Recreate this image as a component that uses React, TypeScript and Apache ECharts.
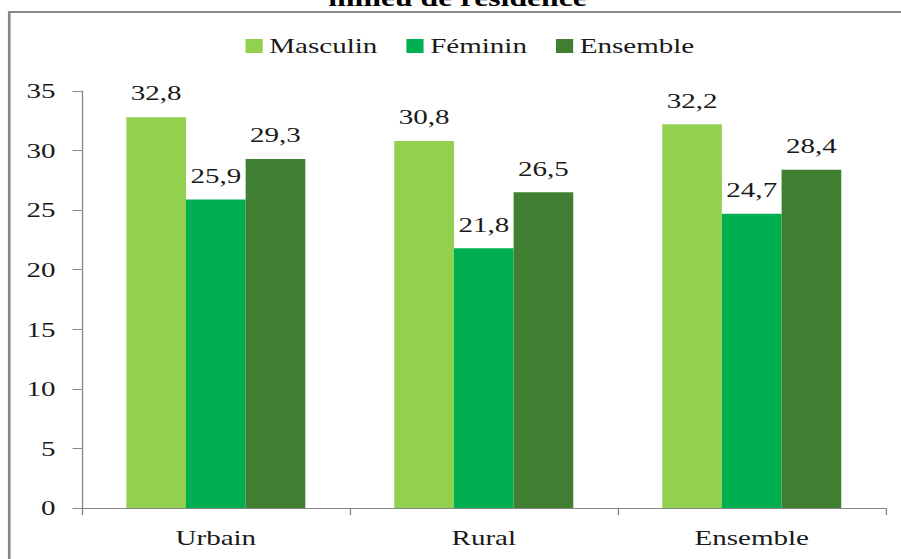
import React, { useEffect, useRef } from "react";
import * as echarts from "echarts";

const categories = ["Urbain", "Rural", "Ensemble"];
const seriesNames = ["Masculin", "Féminin", "Ensemble"];
const masculin = [32.8, 30.8, 32.2];
const feminin = [25.9, 21.8, 24.7];
const ensemble = [29.3, 26.5, 28.4];
const colors = ["#92D050", "#00B050", "#407F32"];
const titleText = "milieu de résidence";

const SX = 1.32;
const W = 901;
const H = 559;
const W0 = Math.round(W / SX);
const FONT = "Liberation Serif";
const TEXT = "#1a1a1a";
const GRAY = "#878787";

export default function App() {
  const ref = useRef<HTMLDivElement>(null);
  useEffect(() => {
    if (!ref.current) return;
    const chart = echarts.init(ref.current, null, { renderer: "svg" });
    const values = [masculin, feminin, ensemble];
    chart.setOption({
      animation: false,
      backgroundColor: "#ffffff",
      textStyle: { fontFamily: FONT },
      graphic: [
        {
          type: "rect",
          shape: { x: 7, y: 12, width: 900, height: 800 },
          style: { fill: "none", stroke: GRAY, lineWidth: 2 },
          silent: true,
        },
        {
          type: "text",
          x: 346.6,
          y: -2,
          style: {
            text: titleText,
            fontFamily: FONT,
            fontWeight: "bold",
            fontSize: 24,
            fill: "#000",
            textAlign: "center",
            textVerticalAlign: "middle",
          },
        },
      ],
      legend: {
        left: 181,
        top: 30,
        icon: "rect",
        itemWidth: 13,
        itemHeight: 14,
        itemGap: 22,
        itemTextGap: 6,
        textStyle: { fontFamily: FONT, fontSize: 22, color: TEXT },
        data: seriesNames,
      },
      grid: {
        left: 62,
        right: W0 - 671,
        top: 91,
        bottom: 51,
        containLabel: false,
        outerBoundsMode: "none",
      },
      xAxis: {
        type: "category",
        data: categories,
        axisLine: { show: true, lineStyle: { color: GRAY, width: 1 } },
        axisTick: { show: true, length: 7, lineStyle: { color: GRAY } },
        axisLabel: { fontFamily: FONT, fontSize: 22, color: TEXT, margin: 19 },
      },
      yAxis: {
        type: "value",
        min: 0,
        max: 35,
        interval: 5,
        axisLine: { show: true, lineStyle: { color: GRAY, width: 1 } },
        axisTick: { show: true, length: 7, lineStyle: { color: GRAY } },
        axisLabel: { fontFamily: FONT, fontSize: 22, color: TEXT, margin: 20 },
        splitLine: { show: false },
      },
      series: seriesNames.map((name, i) => ({
        name,
        type: "bar",
        data: values[i],
        barWidth: 45.2,
        barGap: "0%",
        itemStyle: { color: colors[i] },
        label: {
          show: true,
          position: "top",
          distance: 13,
          fontFamily: FONT,
          fontSize: 22,
          color: TEXT,
          formatter: (p: any) => String(p.value.toFixed(1)).replace(".", ","),
        },
      })),
    });
    return () => chart.dispose();
  }, []);
  return (
    <div
      style={{
        position: "fixed",
        left: 0,
        top: 0,
        width: W,
        height: H,
        overflow: "hidden",
        background: "#fff",
      }}
    >
      <div
        ref={ref}
        style={{
          width: W0,
          height: H,
          transform: `scaleX(${SX})`,
          transformOrigin: "0 0",
        }}
      />
    </div>
  );
}
